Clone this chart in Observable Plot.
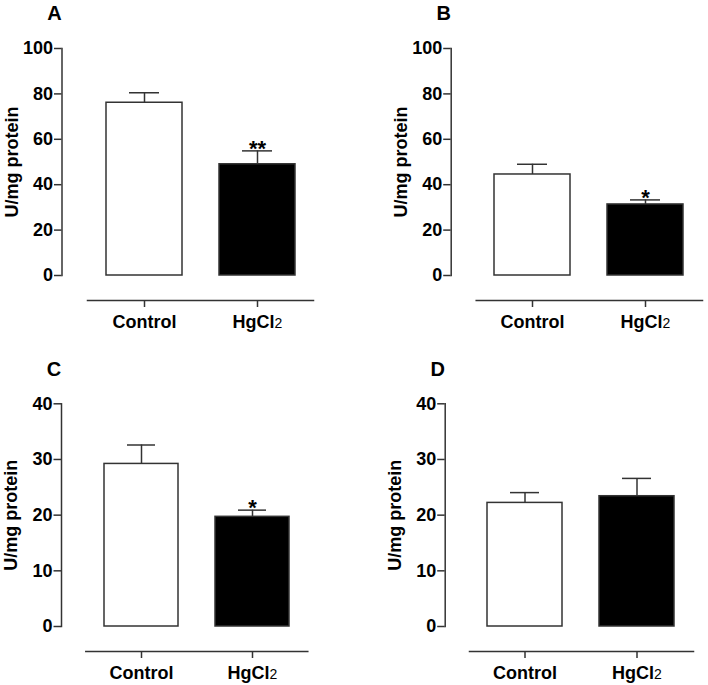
<!DOCTYPE html>
<html>
<head>
<meta charset="utf-8">
<script src="https://cdn.jsdelivr.net/npm/d3@7"></script>
<script src="https://cdn.jsdelivr.net/npm/@observablehq/plot@0.6"></script>
<style>
  html, body { margin: 0; padding: 0; background: #fff; }
  #wrap { position: relative; width: 708px; height: 685px; overflow: hidden; }
  #wrap > svg { position: absolute; }
</style>
</head>
<body>
<div id="wrap"></div>
<script>
// ---- data ----
const categories = ["Control", "HgCl2"];
const panelLetters = ["A", "B", "C", "D"];
const meanA = [76.1, 49.0], semA = [4.4, 5.9], starsA = ["", "**"];
const meanB = [44.5, 31.3], semB = [4.5, 2.0], starsB = ["", "*"];
const meanC = [29.2, 19.7], semC = [3.4, 1.2], starsC = ["", "*"];
const meanD = [22.2, 23.4], semD = [1.85, 3.2], starsD = ["", ""];
const yTicksTop = [0, 20, 40, 60, 80, 100];
const yTicksBottom = [0, 10, 20, 30, 40];
const yLabel = "U/mg protein";

// ---- styles / layout ----
const fills = ["white", "black"];
const ink = "#333";
const font = "'Liberation Sans', Arial, Helvetica, sans-serif";

const layouts = [
  {left: 0,   top: 0,   w: 354, h: 342, mL: 61.5, mR: 41,   mT: 48,   mB: 42, inL: 25.5, inB: 25},
  {left: 354, top: 0,   w: 354, h: 342, mL: 96.7, mR: 6,    mT: 48,   mB: 42, inL: 25,   inB: 25},
  {left: 0,   top: 342, w: 354, h: 343, mL: 61,   mR: 46.7, mT: 61.3, mB: 34, inL: 24.3, inB: 25},
  {left: 354, top: 342, w: 354, h: 343, mL: 90.7, mR: 15,   mT: 61.3, mB: 34, inL: 24.3, inB: 25}
];

const panels = [
  {mean: meanA, sem: semA, stars: starsA, ticks: yTicksTop},
  {mean: meanB, sem: semB, stars: starsB, ticks: yTicksTop},
  {mean: meanC, sem: semC, stars: starsC, ticks: yTicksBottom},
  {mean: meanD, sem: semD, stars: starsD, ticks: yTicksBottom}
];

function makePanel(p, L, letter) {
  const data = categories.map((c, i) => ({cat: c, mean: p.mean[i], sem: p.sem[i], star: p.stars[i]}));
  const yMax = p.ticks[p.ticks.length - 1];
  const plot = Plot.plot({
    width: L.w, height: L.h,
    marginLeft: L.mL, marginRight: L.mR, marginTop: L.mT, marginBottom: L.mB,
    x: {domain: categories, paddingInner: 0.33, paddingOuter: 0.165, insetLeft: L.inL, axis: null},
    y: {domain: [0, yMax], insetBottom: L.inB, axis: null},
    color: {domain: categories, range: fills},
    style: {fontFamily: font, fontWeight: "bold", color: "#000", background: "transparent"},
    marks: [
      Plot.barY(data, {x: "cat", y: "mean", fill: "cat", stroke: ink, strokeWidth: 1.5}),
      Plot.ruleX(data, {x: "cat", y1: "mean", y2: d => d.mean + d.sem, stroke: ink, strokeWidth: 1.5}),
      Plot.tickY(data, {x: "cat", y: d => d.mean + d.sem, stroke: ink, strokeWidth: 1.5, insetLeft: 23, insetRight: 23}),
      Plot.text(data, {x: "cat", y: d => d.mean + d.sem, text: "star", lineAnchor: "bottom", dy: 5, fontSize: 22, fontWeight: "bold", fill: "#000"}),
      Plot.frame({anchor: "left", insetBottom: L.inB, stroke: ink, strokeWidth: 1.5}),
      Plot.frame({anchor: "bottom", insetLeft: L.inL, stroke: ink, strokeWidth: 1.5}),
      Plot.axisY({ticks: p.ticks, tickSize: 7.5, tickPadding: 1.5, fontSize: 18, fontWeight: "bold", stroke: ink, strokeWidth: 1.5, fill: "#000", label: null}),
      Plot.axisX({tickSize: 7, tickPadding: 8, fontSize: 18, fontWeight: "bold", stroke: ink, strokeWidth: 1.5, fill: "#000", label: null}),
      Plot.text([{label: yLabel, y: yMax / 2}], {y: "y", text: "label", frameAnchor: "left", dx: -50, rotate: -90, textAnchor: "middle", lineAnchor: "middle", fontSize: 18, fontWeight: "bold", fill: "#000"}),
      Plot.text([letter], {frameAnchor: "top-left", dx: -7.5, dy: -34.7, textAnchor: "middle", lineAnchor: "middle", fontSize: 20, fontWeight: "bold", fill: "#000"})
    ]
  });
  plot.querySelectorAll("text").forEach(t => {
    // y tick labels: enforce size/weight
    if (/^\d+$/.test(t.textContent.trim())) {
      t.style.fontSize = "18px";
      t.style.fontWeight = "bold";
    }
    // subscript for HgCl2
    if (t.textContent === "HgCl2") {
      const ns = "http://www.w3.org/2000/svg";
      while (t.firstChild) t.removeChild(t.firstChild);
      t.appendChild(document.createTextNode("HgCl"));
      const s = document.createElementNS(ns, "tspan");
      s.setAttribute("font-weight", "normal");
      s.setAttribute("font-size", "14");
      s.textContent = "2";
      t.appendChild(s);
    }
  });
  plot.style.left = L.left + "px";
  plot.style.top = L.top + "px";
  return plot;
}

const wrap = document.getElementById("wrap");
panels.forEach((p, i) => wrap.appendChild(makePanel(p, layouts[i], panelLetters[i])));
</script>
</body>
</html>
